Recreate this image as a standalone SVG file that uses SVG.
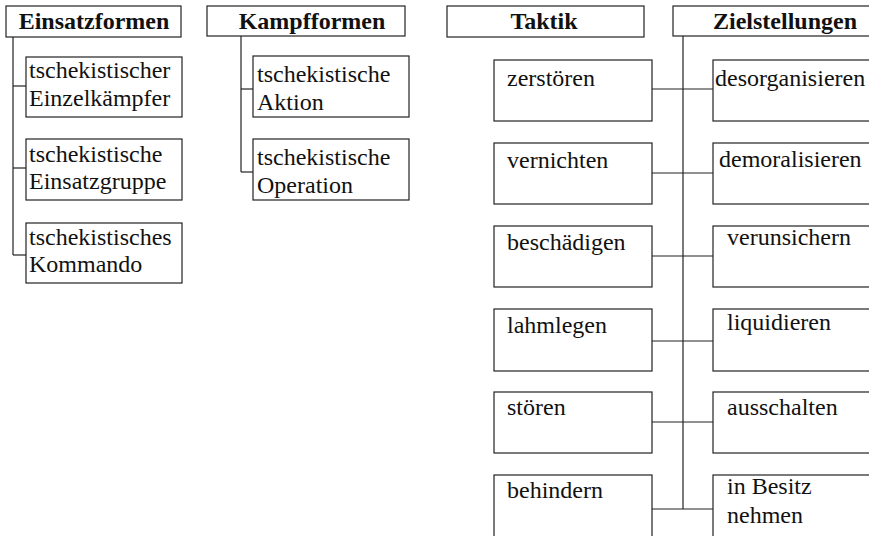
<svg xmlns="http://www.w3.org/2000/svg" width="869" height="536" viewBox="0 0 869 536">
<style>
rect{fill:#fff;stroke:#222;stroke-width:1.2}
text{font-family:'Liberation Serif','DejaVu Serif',serif;font-size:24px;fill:#111}
.h{font-weight:bold;text-anchor:middle}
#connectors line{stroke:#222;stroke-width:1.2}
</style>
<rect x="0" y="0" width="869" height="536" style="fill:#fff;stroke:none"/>
<g id="connectors">
<line x1="13" y1="37" x2="13" y2="255"/>
<line x1="13" y1="86" x2="26" y2="86"/>
<line x1="13" y1="168" x2="26" y2="168"/>
<line x1="13" y1="255" x2="26" y2="255"/>
<line x1="241" y1="36" x2="241" y2="172"/>
<line x1="241" y1="89" x2="253" y2="89"/>
<line x1="241" y1="172" x2="253" y2="172"/>
<line x1="683" y1="36" x2="683" y2="509"/>
<line x1="652" y1="89" x2="713" y2="89"/>
<line x1="652" y1="173" x2="713" y2="173"/>
<line x1="652" y1="256" x2="713" y2="256"/>
<line x1="652" y1="341" x2="713" y2="341"/>
<line x1="652" y1="422" x2="713" y2="422"/>
<line x1="652" y1="509" x2="713" y2="509"/>
</g>
<g id="einsatzformen"><rect x="6" y="6" width="175" height="31"/><text class="h" x="94" y="29" font-family="Liberation Serif">Einsatzformen</text></g>
<g id="einzelkaempfer"><rect x="26" y="57" width="156" height="60"/><text x="29" y="78">tschekistischer</text><text x="29" y="106">Einzelkämpfer</text></g>
<g id="einsatzgruppe"><rect x="26" y="139" width="156" height="61"/><text x="29" y="162">tschekistische</text><text x="29" y="189">Einsatzgruppe</text></g>
<g id="kommando"><rect x="26" y="223" width="156" height="60"/><text x="29" y="245">tschekistisches</text><text x="29" y="272">Kommando</text></g>
<g id="kampfformen"><rect x="207" y="6" width="198" height="30"/><text class="h" x="312" y="29">Kampfformen</text></g>
<g id="aktion"><rect x="253" y="56" width="156" height="61"/><text x="257" y="82">tschekistische</text><text x="257" y="110">Aktion</text></g>
<g id="operation"><rect x="253" y="139" width="156" height="61"/><text x="257" y="165">tschekistische</text><text x="257" y="193">Operation</text></g>
<g id="taktik"><rect x="447" y="6" width="197" height="31"/><text class="h" x="544" y="29">Taktik</text></g>
<g id="zielstellungen"><rect x="673" y="6" width="230" height="30"/><text class="h" x="785" y="29">Zielstellungen</text></g>
<g id="zerstoeren"><rect x="494" y="60" width="158" height="61"/><text x="507" y="86">zerstören</text></g>
<g id="vernichten"><rect x="494" y="143" width="158" height="61"/><text x="507" y="168">vernichten</text></g>
<g id="beschaedigen"><rect x="494" y="226" width="158" height="61"/><text x="507" y="250">beschädigen</text></g>
<g id="lahmlegen"><rect x="494" y="309" width="158" height="62"/><text x="507" y="333">lahmlegen</text></g>
<g id="stoeren"><rect x="494" y="392" width="158" height="61"/><text x="507" y="415">stören</text></g>
<g id="behindern"><rect x="494" y="475" width="158" height="80"/><text x="507" y="498">behindern</text></g>
<g id="desorganisieren"><rect x="713" y="60" width="190" height="61"/><text x="715" y="86">desorganisieren</text></g>
<g id="demoralisieren"><rect x="713" y="143" width="190" height="61"/><text x="719" y="167">demoralisieren</text></g>
<g id="verunsichern"><rect x="713" y="226" width="190" height="61"/><text x="727" y="245">verunsichern</text></g>
<g id="liquidieren"><rect x="713" y="309" width="190" height="62"/><text x="727" y="330">liquidieren</text></g>
<g id="ausschalten"><rect x="713" y="392" width="190" height="61"/><text x="727" y="415">ausschalten</text></g>
<g id="inbesitz"><rect x="713" y="475" width="190" height="80"/><text x="727" y="494">in Besitz</text><text x="727" y="523">nehmen</text></g>
</svg>
